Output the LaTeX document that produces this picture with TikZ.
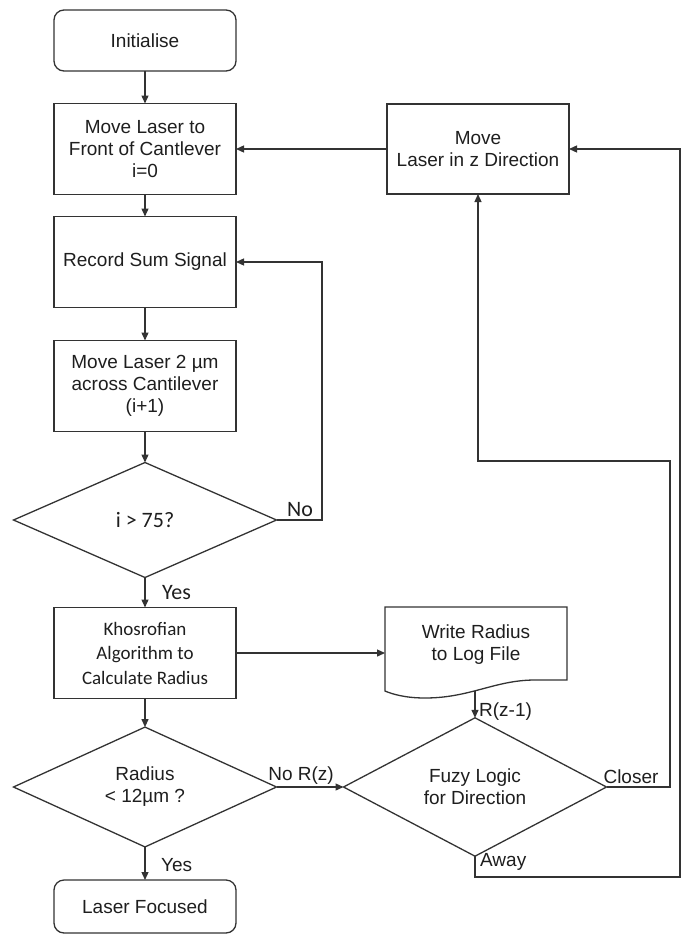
\documentclass[tikz,border=0pt]{standalone}
\usepackage{fontspec}
\setmainfont{Liberation Sans}
\newfontfamily\calibri{Carlito}
\usetikzlibrary{shapes.geometric,arrows.meta}
\definecolor{ink}{HTML}{333333}
\definecolor{txt}{HTML}{1E1E1E}
\begin{document}
\begin{tikzpicture}[x=1pt,y=-1pt,
  line width=1.3pt, draw=ink, text=txt,
  font=\fontsize{19}{22}\selectfont,
  proc/.style={draw=ink, rectangle, minimum width=182pt, minimum height=91pt,
    align=center, inner sep=0pt, outer sep=0pt},
  term/.style={proc, rounded corners=10pt, minimum height=61pt},
  decision/.style={draw=ink, diamond, minimum width=263pt, minimum height=115pt,
    inner sep=0pt, outer sep=0pt, align=center},
  cal/.style={font=\calibri\fontsize{19}{24.5}\selectfont},
  calbig/.style={font=\calibri\fontsize{22}{26}\selectfont},
  flow/.style={draw=ink, -{Triangle[length=8pt,width=7pt]}},
  lbl/.style={inner sep=1.5pt}
]
\useasboundingbox (0,0) rectangle (682,937);

% main column
\node[term] (init) at (145,40.5) {Initialise};
\node[proc] (front) at (145,149) {Move Laser to\\Front of Cantlever\\i=0};
\node[proc] (record) at (145,262) {Record Sum Signal};
\node[proc] (step2) at (145,386) {Move Laser 2 µm\\across Cantilever\\(i+1)};
\node[decision, calbig] (count) at (145,520) {i > 75?};
\node[proc, cal] (khos) at (145,653) {Khosrofian\\Algorithm to\\Calculate Radius};
\node[decision] (radius) at (145,787) {Radius\\< 12µm ?};
\node[term, minimum height=53pt] (done) at (145,906.5) {Laser Focused};

% right column
\node[proc, minimum height=90pt] (movez) at (478,149) {Move\\Laser in z Direction};
\node[decision] (fuzzy) at (475,787) {Fuzy Logic\\for Direction};

% document shape for the log file
\coordinate (logW) at (385,653);
\coordinate (logB) at (475,691);
\draw[ink] (385,691) -- (385,607) -- (567,607) -- (567,680) -- (535,680)
  .. controls (495,680) and (470,698) .. (425,698)
  .. controls (405,698) and (392,694) .. (385,691) -- cycle;
\node[align=center, inner sep=0pt] (logfile) at (476,645) {Write Radius\\to Log File};

% routing points
\coordinate (noloop) at (322,262);
\coordinate (closer) at (670,461);
\coordinate (away) at (680,877);

% connectors
\draw[flow] (init) -- (front);
\draw[flow] (front) -- (record);
\draw[flow] (record) -- (step2);
\draw[flow] (step2) -- (count);
\draw[flow] (count) -- (khos);
\node[calbig, lbl, anchor=west] (yes1) at (160,593) {Yes};
\draw[flow] (count.east) -| (noloop) -- (record.east);
\node[calbig, lbl, anchor=south] (no1) at (300,519) {No};
\draw[flow] (khos) -- (logW);
\draw[flow] (logB) -- (fuzzy.north);
\node[lbl, anchor=west] (rz1) at (477,712) {R(z-1)};
\draw[flow] (khos) -- (radius);
\draw[flow] (radius) -- (done);
\node[lbl, anchor=west] (yes2) at (159,865) {Yes};
\draw[flow] (radius.east) -- (fuzzy.west);
\node[lbl, anchor=south] (norz) at (301,787) {No R(z)};
\draw[flow] (fuzzy.east) -| (closer) -| (movez.south);
\node[lbl, anchor=south] (cl) at (631,786) {Closer};
\draw[flow] (fuzzy.south) |- (away) |- (movez.east);
\node[lbl, anchor=west] (aw) at (478,862) {Away};
\draw[flow] (movez) -- (front);
\end{tikzpicture}
\end{document}
